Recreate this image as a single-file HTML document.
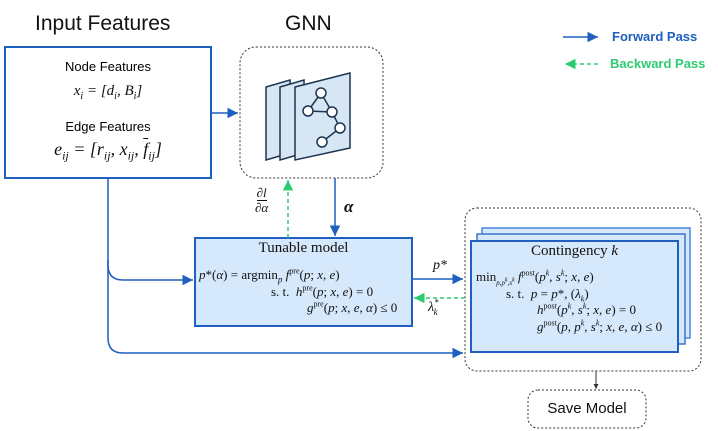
<!DOCTYPE html>
<html><head><style>
body{margin:0;background:#fff;width:718px;height:431px;overflow:hidden;position:relative;font-family:"Liberation Sans",sans-serif}
.a{position:absolute}
.s{font-family:"Liberation Serif",serif;white-space:nowrap;color:#111}
sup,sub{line-height:0}
</style></head><body>
<svg class="a" style="left:0;top:0" width="718" height="431">
<defs>
<marker id="b" markerWidth="8" markerHeight="8" refX="7" refY="4" orient="auto"><path d="M0,0.5 L7,4 L0,7.5 z" fill="#1f5fbf"/></marker>
<marker id="g" markerWidth="8" markerHeight="8" refX="7" refY="4" orient="auto"><path d="M0,0.5 L7,4 L0,7.5 z" fill="#2ecc71"/></marker>
<marker id="k" markerWidth="6" markerHeight="6" refX="5" refY="3" orient="auto"><path d="M0,0.5 L5,3 L0,5.5 z" fill="#333"/></marker>
</defs>
<rect x="5" y="47" width="206" height="131" fill="#fff" stroke="#1f5fbf" stroke-width="2"/>
<rect x="240" y="47" width="143" height="131" rx="16" fill="#fff" stroke="#333" stroke-dasharray="2,2"/>
<g stroke="#1e3550" stroke-width="1.5" fill="#d6e6f5">
<polygon points="266,87 290,80 290,153 266,160"/>
<polygon points="280,87 304,80 304,153 280,160"/>
<polygon points="295,87 350,73 350,148 295,160"/>
</g>
<g stroke="#1e3550" stroke-width="1.5" fill="#fff">
<line x1="321" y1="93" x2="308" y2="111"/><line x1="321" y1="93" x2="332" y2="112"/><line x1="308" y1="111" x2="332" y2="112"/><line x1="332" y1="112" x2="340" y2="128"/><line x1="340" y1="128" x2="322" y2="142"/>
<circle cx="321" cy="93" r="5"/><circle cx="308" cy="111" r="5"/><circle cx="332" cy="112" r="5"/><circle cx="340" cy="128" r="5"/><circle cx="322" cy="142" r="5"/>
</g>
<rect x="195" y="238" width="217" height="88" fill="#d6e8fb" stroke="#1f5fbf" stroke-width="2"/>
<rect x="465" y="208" width="236" height="163" rx="12" fill="#fff" stroke="#333" stroke-dasharray="2,2"/>
<rect x="482" y="228" width="208" height="110" fill="#d6e8fb" stroke="#4a86d8" stroke-width="1.5"/>
<rect x="477" y="234" width="208" height="110" fill="#d6e8fb" stroke="#3a76cc" stroke-width="1.5"/>
<rect x="471" y="241" width="207" height="111" fill="#d6e8fb" stroke="#1f5fbf" stroke-width="2"/>
<rect x="528" y="390" width="118" height="38" rx="10" fill="#fff" stroke="#333" stroke-dasharray="2,2"/>
<g stroke="#1f5fbf" stroke-width="1.5" fill="none">
<line x1="211" y1="113" x2="238" y2="113" marker-end="url(#b)"/>
<line x1="335" y1="178" x2="335" y2="236" marker-end="url(#b)"/>
<path d="M108,178 V265 Q108,280 123,280 H193" marker-end="url(#b)"/>
<path d="M108,260 V338 Q108,353 123,353 H463" marker-end="url(#b)"/>
<line x1="412" y1="279" x2="463" y2="279" marker-end="url(#b)"/>
<line x1="563" y1="37" x2="598" y2="37" marker-end="url(#b)"/>
</g>
<g stroke="#2ecc71" stroke-width="1.5" fill="none" stroke-dasharray="4,3">
<line x1="288" y1="238" x2="288" y2="180" marker-end="url(#g)"/>
<line x1="465" y1="298" x2="414" y2="298" marker-end="url(#g)"/>
<line x1="598" y1="64" x2="565" y2="64" marker-end="url(#g)"/>
</g>
<line x1="596" y1="371" x2="596" y2="389" stroke="#333" marker-end="url(#k)"/>
</svg>
<div class="a" style="left:35px;top:12px;font-size:21px;color:#111">Input Features</div>
<div class="a" style="left:285px;top:12px;font-size:21px;color:#111">GNN</div>
<div class="a" style="left:612px;top:29px;font-size:13px;font-weight:bold;color:#1f5fbf">Forward Pass</div>
<div class="a" style="left:610px;top:56px;font-size:13px;font-weight:bold;color:#2ecc71">Backward Pass</div>
<div class="a" style="left:5px;width:206px;top:59px;text-align:center;font-size:13px">Node Features</div>
<div class="a s" style="left:5px;width:206px;top:83px;text-align:center;font-size:15px;font-style:italic">x<sub style="font-size:10px">i</sub> = [d<sub style="font-size:10px">i</sub>, B<sub style="font-size:10px">i</sub>]</div>
<div class="a" style="left:5px;width:206px;top:119px;text-align:center;font-size:13px">Edge Features</div>
<div class="a s" style="left:5px;width:206px;top:139px;text-align:center;font-size:18px;font-style:italic">e<sub style="font-size:12px">ij</sub> = [r<sub style="font-size:12px">ij</sub>, x<sub style="font-size:12px">ij</sub>, <span style="text-decoration:overline">f</span><sub style="font-size:12px">ij</sub>]</div>
<div class="a s" style="left:255px;top:185px;font-size:13px;font-style:italic;text-align:center;line-height:15px"><span style="border-bottom:1px solid #111">∂l</span><br>∂α</div>
<div class="a s" style="left:344px;top:197px;font-size:17px;font-weight:bold;font-style:italic">α</div>
<div class="a s" style="left:195px;width:217px;top:240px;text-align:center;font-size:15px">Tunable model</div>
<div class="a s" style="left:199px;top:267px;font-size:13px;line-height:16.5px"><i>p</i>*(<i>α</i>) = argmin<sub style="font-size:9px"><i>p</i></sub> <i>f</i><sup style="font-size:8px">pre</sup>(<i>p</i>; <i>x</i>, <i>e</i>)<br><span style="padding-left:72px">s. t.&nbsp; <i>h</i><sup style="font-size:8px">pre</sup>(<i>p</i>; <i>x</i>, <i>e</i>) = 0</span><br><span style="padding-left:108px"><i>g</i><sup style="font-size:8px">pre</sup>(<i>p</i>; <i>x</i>, <i>e</i>, <i>α</i>) ≤ 0</span></div>
<div class="a s" style="left:433px;top:258px;font-size:14px;font-style:italic">p*</div>
<div class="a s" style="left:428px;top:300px;font-size:14px;font-style:italic">λ<sup style="font-size:9px">*</sup><sub style="font-size:9px;margin-left:-5px">k</sub></div>
<div class="a s" style="left:471px;width:207px;top:243px;text-align:center;font-size:15px">Contingency <i>k</i></div>
<div class="a s" style="left:476px;top:269px;font-size:13px;line-height:16.5px">min<sub style="font-size:7px"><i>p,p<sup>k</sup>,s<sup>k</sup></i></sub> <i>f</i><sup style="font-size:8px">post</sup>(<i>p<sup style="font-size:8px">k</sup></i>, <i>s<sup style="font-size:8px">k</sup></i>; <i>x</i>, <i>e</i>)<br><span style="padding-left:30px">s. t.&nbsp; <i>p</i> = <i>p</i>*, (<i>λ<sub style="font-size:8px">k</sub></i>)</span><br><span style="padding-left:61px"><i>h</i><sup style="font-size:8px">post</sup>(<i>p<sup style="font-size:8px">k</sup></i>, <i>s<sup style="font-size:8px">k</sup></i>; <i>x</i>, <i>e</i>) = 0</span><br><span style="padding-left:61px"><i>g</i><sup style="font-size:8px">post</sup>(<i>p</i>, <i>p<sup style="font-size:8px">k</sup></i>, <i>s<sup style="font-size:8px">k</sup></i>; <i>x</i>, <i>e</i>, <i>α</i>) ≤ 0</span></div>
<div class="a" style="left:528px;width:118px;top:400px;text-align:center;font-size:15px;color:#111">Save Model</div>
</body></html>
